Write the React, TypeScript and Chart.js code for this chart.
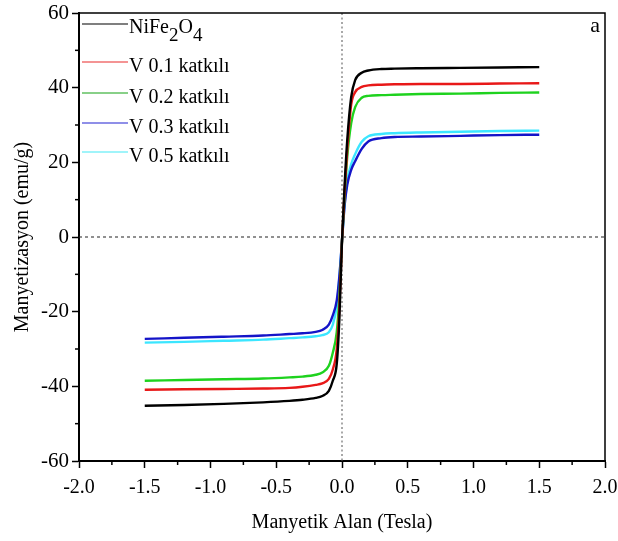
import React, { useEffect, useRef } from "react";
import { Chart, registerables } from "chart.js";

Chart.register(...registerables);

const fields = [-1.5, -1.2, -0.9, -0.6, -0.4, -0.3, -0.2, -0.15, -0.1, -0.07, -0.04, -0.02, 0, 0.02, 0.04, 0.07, 0.1, 0.15, 0.2, 0.3, 0.4, 0.6, 0.9, 1.2, 1.5];

const nife2o4 = [-45.2, -45.0, -44.7, -44.3, -43.9, -43.6, -43.1, -42.6, -41.2, -38.5, -34, -22, -1, 14, 26, 37.5, 42, 44.0, 44.6, 45.0, 45.1, 45.2, 45.3, 45.4, 45.5];
const v01 = [-40.9, -40.8, -40.7, -40.6, -40.4, -40.1, -39.6, -39.2, -38, -35.5, -30, -19, -1, 12.5, 23.5, 35.5, 38.8, 40.2, 40.6, 40.8, 40.9, 41.0, 41.0, 41.1, 41.2];
const v02 = [-38.5, -38.3, -38.1, -37.9, -37.6, -37.4, -36.9, -36.3, -34.5, -31, -25.5, -16, -1, 11, 21.5, 30.5, 34.8, 37.3, 37.8, 38.0, 38.1, 38.3, 38.4, 38.6, 38.7];
const v03 = [-27.3, -27.0, -26.7, -26.4, -26.0, -25.8, -25.4, -24.9, -23.5, -21, -17, -10.5, -1, 8.5, 14, 18, 20.3, 23.6, 25.6, 26.5, 26.8, 26.9, 27.1, 27.3, 27.4];
const v05 = [-28.3, -28.1, -27.8, -27.5, -27.1, -26.9, -26.6, -26.3, -25.5, -23.5, -18.5, -11, -1, 9, 15, 19.5, 22.2, 25.5, 27.0, 27.6, 27.8, 28.0, 28.2, 28.4, 28.5];

const seriesNames = ["NiFe2O4", "V 0.1 katkılı", "V 0.2 katkılı", "V 0.3 katkılı", "V 0.5 katkılı"];
const seriesColors = ["#000000", "#e81818", "#1ed21e", "#1414c8", "#3ce6ff"];
const legendColors = ["#555555", "#f07070", "#60c060", "#6a6ae0", "#80f0f8"];
const xTitle = "Manyetik Alan (Tesla)";
const yTitle = "Manyetizasyon (emu/g)";
const panelLabel = "a";

const FONT = "'Liberation Serif', 'Times New Roman', serif";

const decorPlugin = {
  id: "decor",
  beforeDatasetsDraw(chart: any) {
    const { ctx, chartArea } = chart;
    const xs = chart.scales.x;
    const ys = chart.scales.y;
    ctx.save();
    const x0 = xs.getPixelForValue(0);
    const y0 = ys.getPixelForValue(0);
    ctx.strokeStyle = "#7a7a7a";
    ctx.lineWidth = 1.3;
    ctx.setLineDash([2, 2.5]);
    ctx.beginPath();
    ctx.moveTo(x0, chartArea.top);
    ctx.lineTo(x0, chartArea.bottom);
    ctx.stroke();
    ctx.strokeStyle = "#222";
    ctx.lineWidth = 1;
    ctx.setLineDash([3, 3]);
    ctx.beginPath();
    ctx.moveTo(chartArea.left, y0);
    ctx.lineTo(chartArea.right, y0);
    ctx.stroke();
    ctx.restore();
  },
  afterDraw(chart: any) {
    const { ctx, chartArea } = chart;
    const xs = chart.scales.x;
    const ys = chart.scales.y;
    ctx.save();
    ctx.strokeStyle = "#000";
    ctx.lineWidth = 1.5;
    ctx.beginPath();
    ctx.moveTo(chartArea.left, chartArea.top);
    ctx.lineTo(chartArea.right, chartArea.top);
    ctx.lineTo(chartArea.right, chartArea.bottom);
    ctx.stroke();
    const xt = xs.ticks.map((t: any) => t.value);
    for (let i = 0; i < xt.length - 1; i++) {
      const px = xs.getPixelForValue((xt[i] + xt[i + 1]) / 2);
      ctx.beginPath();
      ctx.moveTo(px, chartArea.bottom);
      ctx.lineTo(px, chartArea.bottom + 4);
      ctx.stroke();
    }
    const yt = ys.ticks.map((t: any) => t.value);
    for (let i = 0; i < yt.length - 1; i++) {
      const py = ys.getPixelForValue((yt[i] + yt[i + 1]) / 2);
      ctx.beginPath();
      ctx.moveTo(chartArea.left, py);
      ctx.lineTo(chartArea.left - 4, py);
      ctx.stroke();
    }
    const rows = [24, 62, 93, 123, 152];
    const lx0 = chartArea.left + 3;
    const lx1 = chartArea.left + 49;
    ctx.font = `20px ${FONT}`;
    ctx.textBaseline = "alphabetic";
    ctx.textAlign = "left";
    seriesNames.forEach((name, i) => {
      const y = rows[i];
      ctx.strokeStyle = legendColors[i];
      ctx.lineWidth = 1.5;
      ctx.beginPath();
      ctx.moveTo(lx0, y);
      ctx.lineTo(lx1, y);
      ctx.stroke();
      ctx.fillStyle = "#000";
      let tx = lx1 + 1;
      if (i === 0) {
        const parts: [string, boolean][] = [["NiFe", false], ["2", true], ["O", false], ["4", true]];
        parts.forEach(([s, sub]) => {
          ctx.font = sub ? `19px ${FONT}` : `20px ${FONT}`;
          ctx.fillText(s, tx, y + (sub ? 17 : 9));
          tx += ctx.measureText(s).width;
        });
        ctx.font = `20px ${FONT}`;
      } else {
        ctx.fillText(name, tx, y + 10);
      }
    });
    ctx.font = `22px ${FONT}`;
    ctx.textAlign = "right";
    ctx.fillText(panelLabel, chartArea.right - 5, chartArea.top + 19);
    ctx.restore();
  },
};

export default function App() {
  const ref = useRef<HTMLCanvasElement | null>(null);
  useEffect(() => {
    if (!ref.current) return;
    const allSeries = [nife2o4, v01, v02, v03, v05];
    const chart = new Chart(ref.current, {
      type: "scatter",
      data: {
        datasets: allSeries.map((vals, i) => ({
          label: seriesNames[i],
          data: fields.map((f, j) => ({ x: f, y: vals[j] })),
          showLine: true,
          borderColor: seriesColors[i],
          backgroundColor: seriesColors[i],
          borderWidth: 2.4,
          pointRadius: 0,
          cubicInterpolationMode: "monotone",
        })),
      },
      options: {
        animation: false,
        responsive: false,
        layout: { padding: { top: 13, right: 13, left: 0, bottom: 0 } },
        plugins: { legend: { display: false }, tooltip: { enabled: false } },
        scales: {
          x: {
            type: "linear",
            min: -2,
            max: 2,
            afterFit: (s: any) => { s.height = 80; s.paddingLeft = 0; s.paddingRight = 0; },
            ticks: {
              stepSize: 0.5,
              callback: (v: any) => Number(v).toFixed(1),
              font: { family: FONT, size: 20 },
              color: "#000",
              padding: 8,
              maxRotation: 0,
            },
            grid: { drawOnChartArea: false, tickLength: 7, tickColor: "#000", tickWidth: 1.5 },
            border: { display: true, color: "#000", width: 2 },
            title: {
              display: true,
              text: xTitle,
              font: { family: FONT, size: 20 },
              color: "#000",
              padding: { top: 0, bottom: 6 },
            },
          },
          y: {
            type: "linear",
            min: -60,
            max: 60,
            afterFit: (s: any) => { s.width = 79; s.paddingTop = 0; s.paddingBottom = 0; },
            ticks: {
              stepSize: 20,
              font: { family: FONT, size: 21 },
              color: "#000",
              padding: 3,
            },
            grid: { drawOnChartArea: false, tickLength: 7, tickColor: "#000", tickWidth: 1.5 },
            border: { display: true, color: "#000", width: 2 },
            title: {
              display: true,
              text: yTitle,
              font: { family: FONT, size: 20 },
              color: "#000",
              padding: { top: 11, bottom: 0 },
            },
          },
        },
      },
      plugins: [decorPlugin],
    } as any);
    return () => chart.destroy();
  }, []);
  return (
    <div style={{ position: "absolute", left: 0, top: 0, width: 618, height: 541, background: "#fff" }}>
      <canvas ref={ref} width={618} height={541} />
    </div>
  );
}
